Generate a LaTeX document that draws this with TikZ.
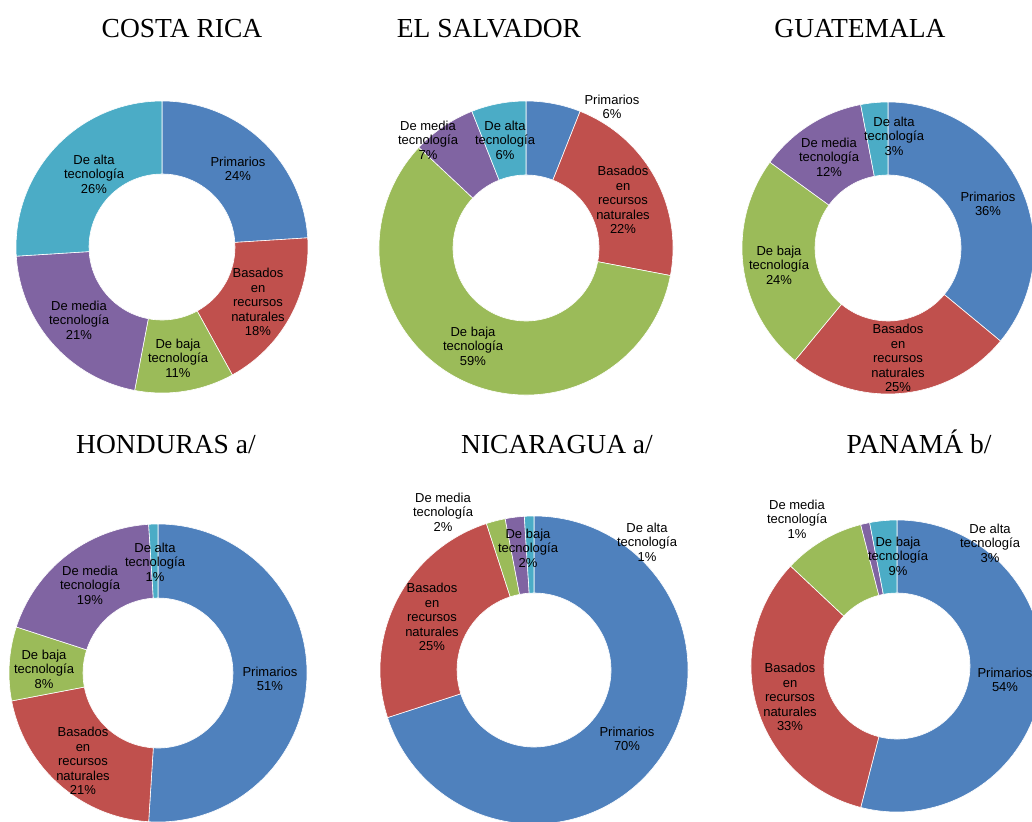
\documentclass[tikz,border=0pt]{standalone}
\usepackage{fontspec}
\setmainfont{Liberation Serif}
\newfontfamily\lblfont{Liberation Sans}
\usepackage{tikz}
\usetikzlibrary{positioning}
\definecolor{prim}{HTML}{4F81BD}
\definecolor{basa}{HTML}{C0504D}
\definecolor{baja}{HTML}{9BBB59}
\definecolor{media}{HTML}{8064A2}
\definecolor{alta}{HTML}{4BACC6}
\tikzset{
  slice/.style={draw=white, line width=0.6pt},
  lbl/.style={align=center, inner sep=0pt, font=\lblfont\fontsize{13}{14.6}\selectfont},
  ttl/.style={anchor=base, inner sep=0pt, font=\fontsize{27.5}{32}\selectfont}
}

\begin{document}
\begin{tikzpicture}[x=1pt,y=1pt]
  \useasboundingbox (0,0) rectangle (1032,-821);
  \clip (0,0) rectangle (1032,-821);
  % titles
  \node[ttl] (tCR) at (182,-38) {COSTA RICA};
  \node[ttl] (tES) at (489,-38) {EL SALVADOR};
  \node[ttl] (tGU) at (860,-38) {GUATEMALA};
  \node[ttl] (tHO) at (166,-453) {HONDURAS a/};
  \node[ttl] (tNI) at (557,-453) {NICARAGUA a/};
  \node[ttl] (tPA) at (919,-453) {PANAM\'A b/};
  % Costa Rica
  \begin{scope}[shift={(162,-247)}]
    \foreach \v/\col [evaluate=\v as \e using \s-3.6*\v, remember=\e as \s (initially 90)] in {24/prim,18/basa,11/baja,21/media,26/alta}
      \draw[slice, fill=\col] (\s:146) arc[start angle=\s, end angle=\e, radius=146] -- (\e:73) arc[start angle=\e, end angle=\s, radius=73] -- cycle;
  \end{scope}
  \node[lbl] (crPrim) at (238,-169) {Primarios\\24\%};
  \node[lbl] (crBasa) at (258,-302) {Basados\\en\\recursos\\naturales\\18\%};
  \node[lbl] (crBaja) at (178,-358) {De baja\\tecnología\\11\%};
  \node[lbl] (crMedia) at (79,-320) {De media\\tecnología\\21\%};
  \node[lbl] (crAlta) at (94,-174) {De alta\\tecnología\\26\%};
  % El Salvador
  \begin{scope}[shift={(526,-248)}]
    \foreach \v/\col [evaluate=\v as \e using \s-3.6*\v, remember=\e as \s (initially 90)] in {6/prim,22/basa,59/baja,7/media,6/alta}
      \draw[slice, fill=\col] (\s:147) arc[start angle=\s, end angle=\e, radius=147] -- (\e:73) arc[start angle=\e, end angle=\s, radius=73] -- cycle;
  \end{scope}
  \node[lbl] (esPrim) at (612,-107) {Primarios\\6\%};
  \node[lbl] (esBasa) at (623,-200) {Basados\\en\\recursos\\naturales\\22\%};
  \node[lbl] (esBaja) at (473,-346) {De baja\\tecnología\\59\%};
  \node[lbl] (esMedia) at (428,-140) {De media\\tecnología\\7\%};
  \node[lbl] (esAlta) at (505,-140) {De alta\\tecnología\\6\%};
  % Guatemala
  \begin{scope}[shift={(888,-248)}]
    \foreach \v/\col [evaluate=\v as \e using \s-3.6*\v, remember=\e as \s (initially 90)] in {36/prim,25/basa,24/baja,12/media,3/alta}
      \draw[slice, fill=\col] (\s:146) arc[start angle=\s, end angle=\e, radius=146] -- (\e:73) arc[start angle=\e, end angle=\s, radius=73] -- cycle;
  \end{scope}
  \node[lbl] (guPrim) at (988,-204) {Primarios\\36\%};
  \node[lbl] (guBasa) at (898,-358) {Basados\\en\\recursos\\naturales\\25\%};
  \node[lbl] (guBaja) at (779,-265) {De baja\\tecnología\\24\%};
  \node[lbl] (guMedia) at (829,-157) {De media\\tecnología\\12\%};
  \node[lbl] (guAlta) at (894,-136) {De alta\\tecnología\\3\%};
  % Honduras
  \begin{scope}[shift={(158,-673)}]
    \foreach \v/\col [evaluate=\v as \e using \s-3.6*\v, remember=\e as \s (initially 90)] in {51/prim,21/basa,8/baja,19/media,1/alta}
      \draw[slice, fill=\col] (\s:149) arc[start angle=\s, end angle=\e, radius=149] -- (\e:75) arc[start angle=\e, end angle=\s, radius=75] -- cycle;
  \end{scope}
  \node[lbl] (hoPrim) at (270,-679) {Primarios\\51\%};
  \node[lbl] (hoBasa) at (83,-761) {Basados\\en\\recursos\\naturales\\21\%};
  \node[lbl] (hoBaja) at (44,-669) {De baja\\tecnología\\8\%};
  \node[lbl] (hoMedia) at (90,-585) {De media\\tecnología\\19\%};
  \node[lbl] (hoAlta) at (155,-562) {De alta\\tecnología\\1\%};
  % Nicaragua
  \begin{scope}[shift={(534,-670)}]
    \foreach \v/\col [evaluate=\v as \e using \s-3.6*\v, remember=\e as \s (initially 90)] in {70/prim,25/basa,2/baja,2/media,1/alta}
      \draw[slice, fill=\col] (\s:154) arc[start angle=\s, end angle=\e, radius=154] -- (\e:77) arc[start angle=\e, end angle=\s, radius=77] -- cycle;
  \end{scope}
  \node[lbl] (niPrim) at (627,-739) {Primarios\\70\%};
  \node[lbl] (niBasa) at (432,-617) {Basados\\en\\recursos\\naturales\\25\%};
  \node[lbl] (niBaja) at (528,-548) {De baja\\tecnología\\2\%};
  \node[lbl] (niMedia) at (443,-512) {De media\\tecnología\\2\%};
  \node[lbl] (niAlta) at (647,-542) {De alta\\tecnología\\1\%};
  % Panama
  \begin{scope}[shift={(897,-666)}]
    \foreach \v/\col [evaluate=\v as \e using \s-3.6*\v, remember=\e as \s (initially 90)] in {54/prim,33/basa,9/baja,1/media,3/alta}
      \draw[slice, fill=\col] (\s:146) arc[start angle=\s, end angle=\e, radius=146] -- (\e:73) arc[start angle=\e, end angle=\s, radius=73] -- cycle;
  \end{scope}
  \node[lbl] (paPrim) at (1005,-680) {Primarios\\54\%};
  \node[lbl] (paBasa) at (790,-697) {Basados\\en\\recursos\\naturales\\33\%};
  \node[lbl] (paBaja) at (898,-556) {De baja\\tecnología\\9\%};
  \node[lbl] (paMedia) at (797,-519) {De media\\tecnología\\1\%};
  \node[lbl] (paAlta) at (990,-543) {De alta\\tecnología\\3\%};
\end{tikzpicture}
\end{document}
